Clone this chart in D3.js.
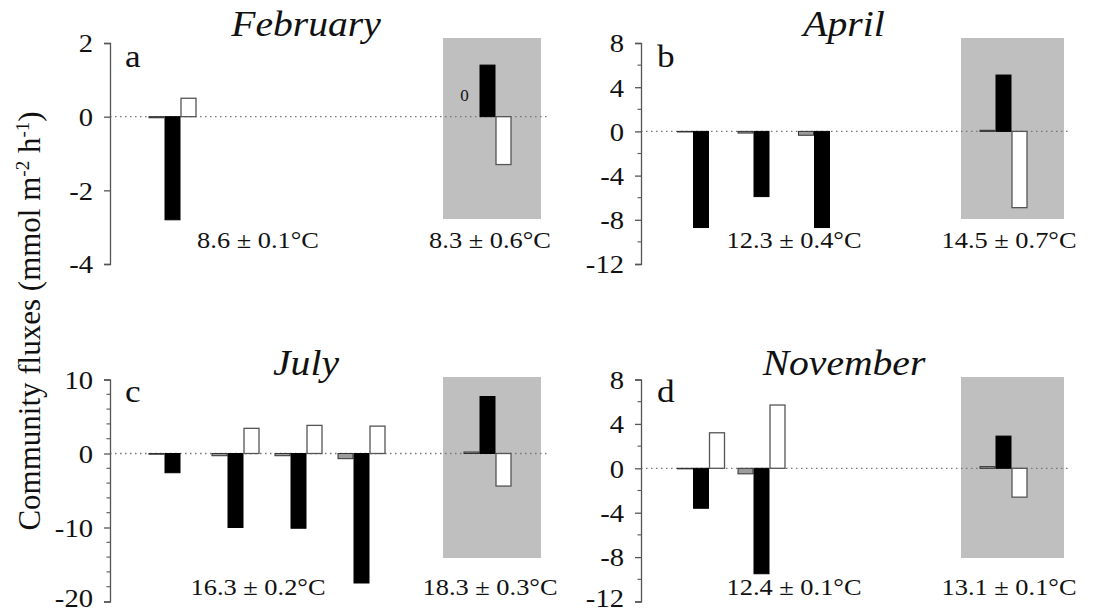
<!DOCTYPE html>
<html>
<head>
<meta charset="utf-8">
<script src="https://cdn.jsdelivr.net/npm/d3@7"></script>
<style>
  html, body { margin: 0; padding: 0; background: #fff; }
  svg { display: block; }
  text { font-family: "Liberation Serif", "DejaVu Serif", serif; fill: #111; }
</style>
</head>
<body>
<svg id="chart" width="1108" height="614"></svg>
<script>
// ---- data ----
const months = ["February", "April", "July", "November"];
const panelLetters = ["a", "b", "c", "d"];
const temperatureLabels = [
  ["8.6 ± 0.1°C", "8.3 ± 0.6°C"],
  ["12.3 ± 0.4°C", "14.5 ± 0.7°C"],
  ["16.3 ± 0.2°C", "18.3 ± 0.3°C"],
  ["12.4 ± 0.1°C", "13.1 ± 0.1°C"]
];
// station slot of each group (slot 5 = shaded group)
const groupSlots = [
  [0, 5],
  [0, 1, 2, 5],
  [0, 1, 2, 3, 5],
  [0, 1, 5]
];
const grayValues = [
  [-0.03, 0],
  [-0.05, -0.15, -0.35, 0.1],
  [-0.1, -0.3, -0.3, -0.7, 0.2],
  [-0.05, -0.5, 0.15]
];
const blackValues = [
  [-2.8, 1.4],
  [-8.7, -5.9, -8.7, 5.1],
  [-2.6, -10.0, -10.1, -17.5, 7.7],
  [-3.6, -9.5, 2.9]
];
const whiteValues = [
  [0.5, -1.3],
  [null, null, null, -6.9],
  [null, 3.4, 3.8, 3.7, -4.4],
  [3.2, 5.7, -2.6]
];
const yDomains = [[-4, 2], [-12, 8], [-20, 10], [-12, 8]];
const yMajorTicks = [[-4, -2, 0, 2], [-12, -8, -4, 0, 4, 8], [-20, -10, 0, 10], [-12, -8, -4, 0, 4, 8]];
const yMinorStep = [null, 2, 2, 2];
const yTitle = "Community fluxes (mmol m";

// ---- layout ----
const cols = [
  { axisX: 110, slot0: 172.5, slot5: 487.5, boxL: 443, boxR: 541, lineEnd: 548, tempX: [258, 490], titleX: 306, letterX: 125 },
  { axisX: 641, slot0: 701, slot5: 1003.5, boxL: 961, boxR: 1064, lineEnd: 1068, tempX: [794, 1009], titleX: 844, letterX: 657 }
];
const rows = [
  { top: 43, bottom: 264, boxTop: 38, boxBot: 219, tempY: 248, titleY: 36, letterY: 67 },
  { top: 379.5, bottom: 601.5, boxTop: 377, boxBot: 558, tempY: 595, titleY: 375, letterY: 402 }
];
const SX = 1.1;       // horizontal stretch of lettering
const barW = 15;
const barStep = 16;

const svg = d3.select("#chart");
const plainInt = d => String(d);   // ASCII hyphen for negatives

function label(g, x, y, str, size, opts = {}) {
  return g.append("text")
    .attr("transform", `translate(${x},${y}) scale(${SX},1)`)
    .attr("text-anchor", opts.anchor || "middle")
    .style("font-size", size + "px")
    .style("font-style", opts.italic ? "italic" : "normal")
    .text(str);
}

function drawPanel(i) {
  const col = cols[i % 2];
  const row = rows[Math.floor(i / 2)];
  const g = svg.append("g");

  const x = d3.scaleLinear().domain([0, 5]).range([col.slot0, col.slot5]);
  const y = d3.scaleLinear().domain(yDomains[i]).range([row.bottom, row.top]);

  // shaded group background
  g.append("rect")
    .attr("x", col.boxL).attr("y", row.boxTop)
    .attr("width", col.boxR - col.boxL).attr("height", row.boxBot - row.boxTop)
    .attr("fill", "#bfbfbf");

  // zero reference line
  g.append("line")
    .attr("x1", col.axisX).attr("x2", col.lineEnd)
    .attr("y1", y(0)).attr("y2", y(0))
    .attr("stroke", "#777").attr("stroke-width", 1.3)
    .attr("stroke-dasharray", "1.5,3.5");

  // bars: gray, black, white per group
  const series = [
    { values: grayValues[i], offset: -barStep, fill: "#9c9c9c", stroke: "#333", sw: 1 },
    { values: blackValues[i], offset: 0, fill: "#000", stroke: "#000", sw: 1 },
    { values: whiteValues[i], offset: barStep, fill: "#fff", stroke: "#555", sw: 1.3 }
  ];
  series.forEach(s => {
    const data = groupSlots[i].map((slot, k) => ({ slot, v: s.values[k] }))
      .filter(d => d.v !== null);
    g.selectAll(null).data(data).enter().append("rect")
      .attr("x", d => x(d.slot) + s.offset - barW / 2)
      .attr("width", barW)
      .attr("y", d => y(Math.max(0, d.v)))
      .attr("height", d => Math.abs(y(d.v) - y(0)))
      .attr("fill", s.fill)
      .attr("stroke", s.stroke)
      .attr("stroke-width", s.sw);
    // a zero-valued bar is stated as a number
    data.filter(d => d.v === 0).forEach(d => {
      g.append("text")
        .attr("x", x(d.slot) + s.offset - 7).attr("y", y(0) - 16)
        .attr("text-anchor", "middle")
        .style("font-size", "17px")
        .text(plainInt(d.v));
    });
  });

  // y axis
  const axis = d3.axisLeft(y).tickValues(yMajorTicks[i]).tickSize(6).tickSizeOuter(6)
    .tickFormat(plainInt);
  const ag = g.append("g").attr("transform", `translate(${col.axisX},0)`).call(axis);
  ag.select(".domain").attr("stroke", "#555").attr("stroke-width", 1.3);
  ag.selectAll(".tick line").attr("stroke", "#555").attr("stroke-width", 1.3);
  ag.selectAll(".tick text")
    .attr("x", null)
    .attr("dy", d => (y(d) > 590 ? "0.18em" : "0.34em"))   // keep the lowest label inside the page
    .attr("transform", `translate(-17,0) scale(${SX},1)`)
    .attr("fill", "#111")
    .style("font-family", '"Liberation Serif", serif')
    .style("font-size", "26px");
  if (yMinorStep[i]) {
    const minor = d3.range(yDomains[i][0], yDomains[i][1] + 0.001, yMinorStep[i])
      .filter(v => !yMajorTicks[i].includes(v));
    ag.selectAll(null).data(minor).enter().append("line")
      .attr("x1", -3.5).attr("x2", 0)
      .attr("y1", d => y(d)).attr("y2", d => y(d))
      .attr("stroke", "#555").attr("stroke-width", 1.1);
  }

  // titles and labels
  label(g, col.titleX, row.titleY, months[i], 36, { italic: true });
  label(g, col.letterX, row.letterY, panelLetters[i], 32, { anchor: "start" });
  label(g, col.tempX[0], row.tempY, temperatureLabels[i][0], 24);
  label(g, col.tempX[1], row.tempY, temperatureLabels[i][1], 24);
}

[0, 1, 2, 3].forEach(drawPanel);

// shared y-axis title
const yt = svg.append("text")
  .attr("transform", "translate(40,321) rotate(-90)")
  .attr("text-anchor", "middle")
  .style("font-size", "31px");
yt.append("tspan").text(yTitle);
yt.append("tspan").attr("dy", -11).style("font-size", "19px").text("-2");
yt.append("tspan").attr("dy", 11).text(" h");
yt.append("tspan").attr("dy", -11).style("font-size", "19px").text("-1");
yt.append("tspan").attr("dy", 11).text(")");
</script>
</body>
</html>
